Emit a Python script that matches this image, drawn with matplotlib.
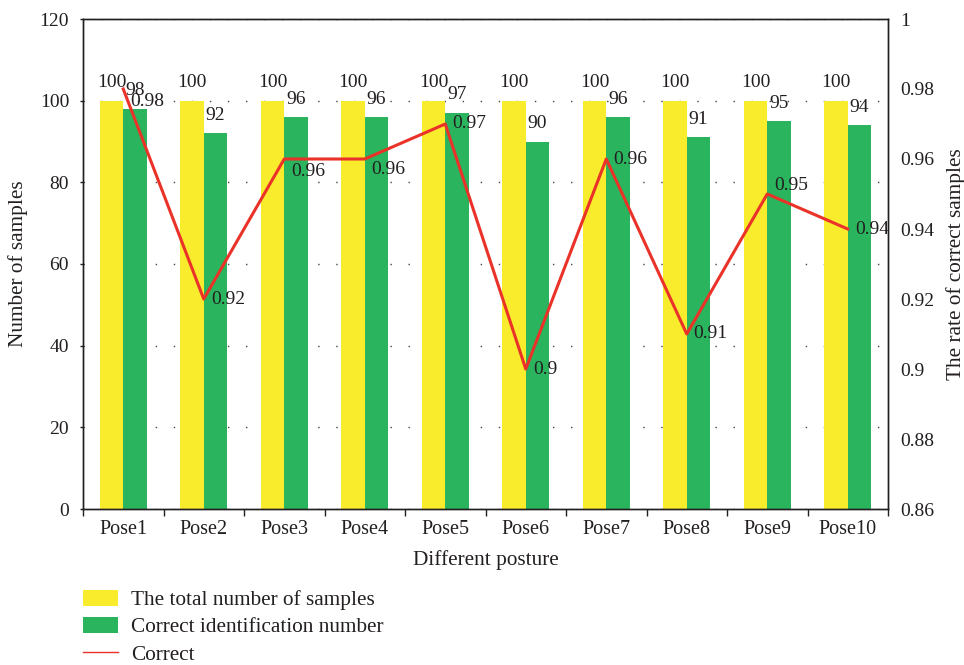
import numpy as np
import matplotlib
matplotlib.use('Agg')
import matplotlib.pyplot as plt
from matplotlib.lines import Line2D
from matplotlib.ticker import FixedLocator, FuncFormatter

plt.rcParams['font.family'] = ['Liberation Serif', 'DejaVu Serif']
plt.rcParams['font.size'] = 14
plt.rcParams['text.color'] = '#231f20'
plt.rcParams['axes.labelcolor'] = '#231f20'
plt.rcParams['xtick.color'] = '#231f20'
plt.rcParams['ytick.color'] = '#231f20'

# ----------------------------------------
# data
# ----------------------------------------
poses = ['Pose1', 'Pose2', 'Pose3', 'Pose4', 'Pose5',
         'Pose6', 'Pose7', 'Pose8', 'Pose9', 'Pose10']
total_samples = [100, 100, 100, 100, 100, 100, 100, 100, 100, 100]
correct_number = [98, 92, 96, 96, 97, 90, 96, 91, 95, 94]
correct_rate = [0.98, 0.92, 0.96, 0.96, 0.97, 0.90, 0.96, 0.91, 0.95, 0.94]

# vertical nudges (pixels, downward) for the rate labels so they don't collide
rate_label_dy = [13, 0, 12, 11, 0, 0, 0, 0, -9, 0]

yellow = '#f8ec2d'
green = '#29b45d'
red = '#ea3228'
ink = '#231f20'
word_size = 15.3
num_size = 14

fig = plt.figure(figsize=(9.64, 6.65), dpi=100)
ax = fig.add_axes([83/964, 1-509/665, (888-83)/964, (509-19)/665])
ax2 = ax.twinx()

x = np.arange(len(poses))
w = 0.29
b1 = ax.bar(x - w/2, total_samples, w, color=yellow, zorder=2,
            label='The total number of samples')
b2 = ax.bar(x + w/2, correct_number, w, color=green, zorder=2,
            label='Correct identification number')

for xi, v in zip(x - w/2, total_samples):
    ax.annotate(str(v), (xi, v), xytext=(0, 18), textcoords='offset pixels',
                ha='center', va='center', fontsize=num_size)
for xi, v in zip(x + w/2, correct_number):
    ax.annotate(str(v), (xi, v), xytext=(0, 18), textcoords='offset pixels',
                ha='center', va='center', fontsize=num_size)

ax.set_xlim(-0.5, len(poses) - 0.5)
ax.set_ylim(0, 120)
ax.set_yticks(np.arange(0, 121, 20))
ax.yaxis.grid(True, linestyle=(0, (1, 12)), color='#444444', linewidth=1.0)
ax.set_axisbelow(True)
ax.set_xticks(x)
ax.set_xticklabels(poses, fontsize=14.5)
ax.xaxis.set_minor_locator(FixedLocator(np.arange(-0.5, len(poses), 1.0)))
ax.tick_params(axis='x', which='major', length=0, pad=8)
ax.tick_params(axis='x', which='minor', length=5, width=1, direction='out')
ax.tick_params(axis='y', length=2, width=1, pad=8, labelsize=num_size)
for s in ax.spines.values():
    s.set_color(ink)
    s.set_linewidth(1.0)

ax.set_xlabel('Different posture', labelpad=8, fontsize=word_size)
ax.set_ylabel('Number of samples', fontsize=word_size)
ax.yaxis.set_label_coords(-0.068, 0.5)

# ----------------------------------------
# rate line on the right axis
# ----------------------------------------
ax2.plot(x, correct_rate, color=red, linewidth=2.2, zorder=3)
for xi, v, dy in zip(x, correct_rate, rate_label_dy):
    ax2.annotate(f'{v:g}', (xi, v), xytext=(7, -dy), textcoords='offset pixels',
                 ha='left', va='center', fontsize=num_size)
ax2.set_ylim(0.86, 1.0)
ax2.set_yticks(np.arange(0.86, 1.001, 0.02))
ax2.yaxis.set_major_formatter(FuncFormatter(lambda v, p: f'{round(v, 2):g}'))
ax2.tick_params(axis='y', length=0, pad=9, labelsize=num_size)
for s in ax2.spines.values():
    s.set_color(ink)
    s.set_linewidth(1.0)
ax2.set_ylabel('The rate of correct samples', labelpad=8, fontsize=word_size)

handles = [b1, b2, Line2D([], [], color=red, linewidth=1.0)]
labels = ['The total number of samples', 'Correct identification number', 'Correct']
fig.legend(handles, labels, loc='upper left', bbox_to_anchor=(83/964, 1-590/665),
           frameon=False, handlelength=1.65, handleheight=0.75, handletextpad=0.6,
           labelspacing=0.33, borderaxespad=0, borderpad=0, fontsize=word_size)

fig.savefig('out.png', dpi=100)
